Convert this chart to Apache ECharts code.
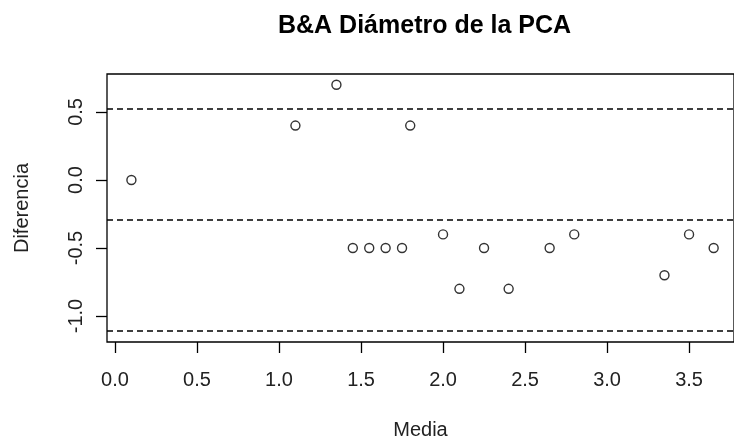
<!DOCTYPE html>
<html>
<head>
<meta charset="utf-8">
<script src="https://cdn.jsdelivr.net/npm/echarts@6/dist/echarts.min.js"></script>
<style>html,body{margin:0;padding:0;background:#fff}#c{width:734px;height:442px}</style>
</head>
<body>
<div id="c"></div>
<script>
var media = [0.1, 1.1, 1.35, 1.45, 1.55, 1.65, 1.75, 1.8, 2.0, 2.1, 2.25, 2.4, 2.65, 2.8, 3.35, 3.5, 3.65];
var diferencia = [0.0, 0.4, 0.7, -0.5, -0.5, -0.5, -0.5, 0.4, -0.4, -0.8, -0.5, -0.8, -0.5, -0.4, -0.7, -0.4, -0.5];
var limits = [0.52, -0.295, -1.11];
var xTicks = [0, 0.5, 1.0, 1.5, 2.0, 2.5, 3.0, 3.5];
var yTicks = [-1.0, -0.5, 0.0, 0.5];

var FONT = '"Liberation Sans", Arial, sans-serif';
var chart = echarts.init(document.getElementById('c'), null, {renderer: 'canvas'});
var pts = media.map(function (m, i) { return [m, diferencia[i]]; });

chart.setOption({
  animation: false,
  backgroundColor: '#fff',
  title: {
    text: 'B&A Diámetro de la PCA',
    left: 273, top: 9,
    textStyle: {fontFamily: FONT, fontSize: 25, fontWeight: 'bold', color: '#000'}
  },
  grid: {left: 107, right: 0, top: 74, bottom: 100, show: true, borderColor: '#000', borderWidth: 1.3,
    containLabel: false, outerBoundsMode: 'none'},
  xAxis: {
    type: 'value', min: -0.0488, max: 3.774,
    name: 'Media', nameLocation: 'middle', nameGap: 78,
    nameTextStyle: {fontFamily: FONT, fontSize: 20, color: '#222'},
    axisLine: {show: false, onZero: false},
    splitLine: {show: false},
    axisTick: {show: true, length: 11, lineStyle: {color: '#000', width: 1.3}, customValues: xTicks},
    axisLabel: {fontFamily: FONT, fontSize: 20, color: '#222', margin: 28, customValues: xTicks,
      formatter: function (v) { return v.toFixed(1); }}
  },
  yAxis: {
    type: 'value', min: -1.191, max: 0.779,
    name: 'Diferencia', nameLocation: 'middle', nameGap: 75, nameRotate: 90,
    nameTextStyle: {fontFamily: FONT, fontSize: 20, color: '#222'},
    axisLine: {show: false, onZero: false},
    splitLine: {show: false},
    axisTick: {show: true, length: 11, lineStyle: {color: '#000', width: 1.3}, customValues: yTicks},
    axisLabel: {fontFamily: FONT, fontSize: 20, color: '#222', margin: 21, rotate: 90, customValues: yTicks,
      formatter: function (v) { return v.toFixed(1); }}
  },
  series: [{
    type: 'scatter',
    data: pts,
    symbol: 'circle',
    symbolSize: 9,
    itemStyle: {color: '#fff', borderColor: '#000', borderWidth: 1.4},
    markLine: {
      silent: true,
      symbol: ['none', 'none'],
      label: {show: false},
      lineStyle: {color: '#000', type: [6, 4], width: 1.5},
      data: limits.map(function (v) { return {yAxis: v}; })
    }
  }]
});
</script>
</body>
</html>
